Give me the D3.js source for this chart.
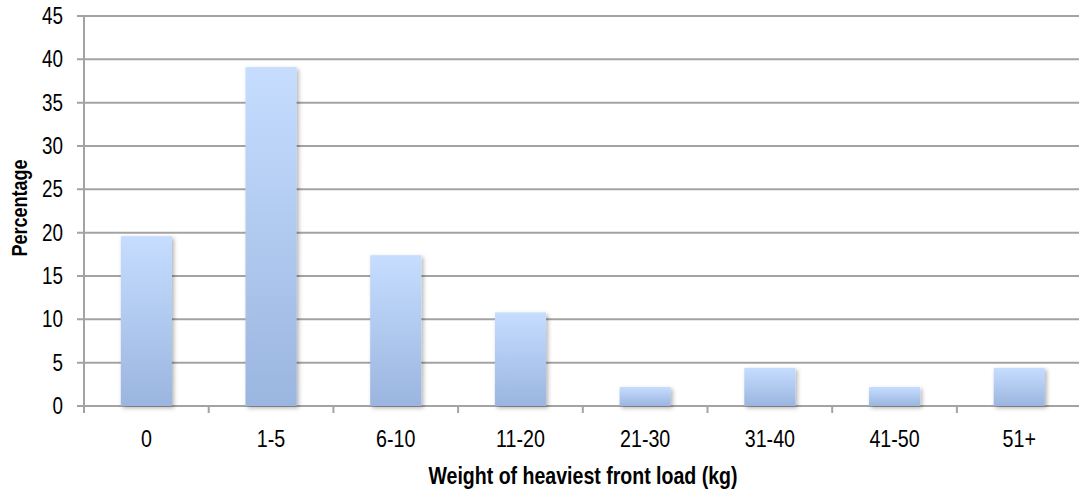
<!DOCTYPE html>
<html>
<head>
<meta charset="utf-8">
<script src="https://cdn.jsdelivr.net/npm/d3@7"></script>
<style>
html,body{margin:0;padding:0;background:#fff;}
svg{display:block;}
text{font-family:"Liberation Sans", Arial, sans-serif;fill:#000;}
</style>
</head>
<body>
<svg id="chart" width="1079" height="491"></svg>
<script>
const categories = ["0","1-5","6-10","11-20","21-30","31-40","41-50","51+"];
const percentages = [19.6, 39.1, 17.4, 10.8, 2.2, 4.4, 2.2, 4.4];
const yTicks = [0,5,10,15,20,25,30,35,40,45];
const xTitle = "Weight of heaviest front load (kg)";
const yTitle = "Percentage";

(function(){
const svg = d3.select("#chart");
const mLeft = 84, mRight = 1081.6, mTop = 16, mBottom = 406;
const narrow = 0.82;

const x = d3.scaleBand().domain(categories).range([mLeft, mRight]).padding(0);
const y = d3.scaleLinear().domain([0, 45]).range([mBottom, mTop]);

const defs = svg.append("defs");
const grad = defs.append("linearGradient").attr("id","barGrad").attr("x1",0).attr("y1",0).attr("x2",0).attr("y2",1);
grad.append("stop").attr("offset","0%").attr("stop-color","#c6ddff");
grad.append("stop").attr("offset","100%").attr("stop-color","#9ab5df");
const f = defs.append("filter").attr("id","shadow").attr("x","-20%").attr("y","-20%").attr("width","150%").attr("height","150%");
f.append("feDropShadow").attr("dx",2).attr("dy",2).attr("stdDeviation",2).attr("flood-color","#000").attr("flood-opacity",0.3);

// gridlines
svg.append("g").selectAll("line").data(yTicks).join("line")
  .attr("x1", mLeft - 7).attr("x2", 1079)
  .attr("y1", d => y(d)).attr("y2", d => y(d))
  .attr("stroke", "#a3a3a3").attr("stroke-width", 2);

// y axis line
svg.append("line").attr("x1", mLeft).attr("x2", mLeft).attr("y1", mTop).attr("y2", mBottom + 7)
  .attr("stroke", "#a3a3a3").attr("stroke-width", 2);

// x tick marks at band boundaries
const bounds = categories.map(c => x(c)).concat([mRight]);
svg.append("g").selectAll("line").data(bounds.slice(1)).join("line")
  .attr("x1", d => d).attr("x2", d => d).attr("y1", mBottom).attr("y2", mBottom + 7)
  .attr("stroke", "#a3a3a3").attr("stroke-width", 2);

// bars
const bw = x.bandwidth() * 0.41;
svg.append("g").selectAll("rect").data(categories).join("rect")
  .attr("x", (c) => x(c) + x.bandwidth()/2 - bw/2)
  .attr("width", bw)
  .attr("y", (c,i) => y(percentages[i]))
  .attr("height", (c,i) => mBottom - y(percentages[i]))
  .attr("fill", "url(#barGrad)")
  .attr("filter", "url(#shadow)");

// y tick labels
svg.append("g").selectAll("text").data(yTicks).join("text")
  .attr("transform", d => `translate(63,${y(d) + 8}) scale(${narrow},1)`)
  .attr("text-anchor", "end")
  .attr("font-size", "23px")
  .text(d => d);

// x tick labels
svg.append("g").selectAll("text").data(categories).join("text")
  .attr("transform", c => `translate(${x(c) + x.bandwidth()/2},447) scale(${narrow},1)`)
  .attr("text-anchor", "middle")
  .attr("font-size", "24px")
  .text(c => c);

// axis titles
svg.append("text")
  .attr("transform", `translate(583,484) scale(0.815,1)`)
  .attr("text-anchor", "middle")
  .attr("font-size", "24px").attr("font-weight", "bold")
  .text(xTitle);

svg.append("text")
  .attr("transform", `translate(27,208) rotate(-90) scale(${narrow},1)`)
  .attr("text-anchor", "middle")
  .attr("font-size", "22px").attr("font-weight", "bold")
  .text(yTitle);
})();
</script>
</body>
</html>
